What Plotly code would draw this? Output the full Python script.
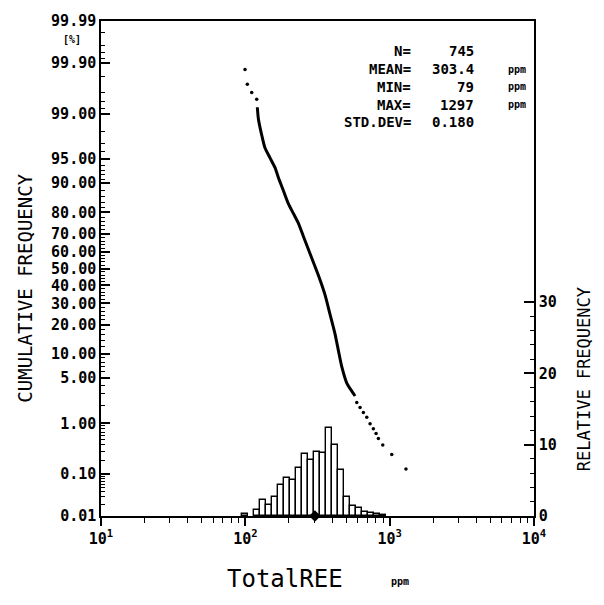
import numpy as np
import plotly.graph_objects as go
from statistics import NormalDist

# ---------------- data ----------------
# Histogram (relative frequency, %) — bin centres in ppm (bins of ratio 1.1)
bin_center_ppm = [99.5, 120.5, 132.6, 145.9, 160.5, 176.5, 194.2, 213.6, 235.0,
                  258.5, 284.3, 312.8, 344.1, 378.4, 416.3, 457.9, 503.8, 554.1,
                  609.5, 670.5, 737.6, 811.3, 892.5]
bin_freq_pct = [0.3, 0.9, 2.3, 1.5, 2.6, 4.3, 5.3, 5.0, 6.7,
                8.7, 7.8, 9.0, 8.9, 12.4, 9.9, 6.5, 2.6, 1.4,
                1.1, 0.5, 0.4, 0.3, 0.2]
bin_ratio = 1.1

# Cumulative frequency curve (dense part)
curve_ppm = [121.1, 123.1, 129.9, 136.9, 148.3, 160.6, 169.3, 183.4, 198.6, 215.1,
             232.9, 252.3, 273.3, 296.0, 320.6, 356.6, 386.4, 418.4, 441.1, 465.7,
             504.4, 546.3, 575.8]
curve_pct = [99.23, 98.78, 97.75, 96.48, 95.17, 93.51, 91.43, 87.94, 83.52, 79.62,
             75.21, 68.62, 61.41, 53.69, 45.90, 34.57, 24.48, 16.23, 10.92, 7.01,
             4.26, 3.27, 2.77]

# Cumulative frequency — isolated points at the tails
tail_ppm = [99.5, 103.2, 110.7, 119.9,
            591.6, 623.6, 657.3, 693.9, 731.4, 770.9, 805.0, 835.1, 895.9, 1034.0, 1297.0]
tail_pct = [99.86, 99.72, 99.59, 99.45,
            2.20, 1.84, 1.53, 1.27, 0.98, 0.80, 0.66, 0.53, 0.40, 0.26, 0.13]

# Statistics block
stat_names = ["N=", "MEAN=", "MIN=", "MAX=", "STD.DEV="]
stat_values = ["745", "303.4", "79", "1297", "0.180"]
stat_units = ["", "ppm", "ppm", "ppm", ""]
mean_ppm = 303.4

# Axis ticks
cum_tick_pct = [0.01, 0.1, 1, 5, 10, 20, 30, 40, 50, 60, 70, 80, 90, 95, 99, 99.9, 99.99]
cum_minor_pct = ([0.02, 0.03, 0.04, 0.05, 0.06, 0.07, 0.08, 0.09,
                  0.2, 0.3, 0.4, 0.5, 0.6, 0.7, 0.8, 0.9, 2, 3, 4, 6, 7, 8, 9,
                  12, 14, 16, 18, 22, 24, 26, 28, 32, 34, 36, 38, 42, 44, 46, 48,
                  52, 54, 56, 58, 62, 64, 66, 68, 72, 74, 76, 78, 82, 84, 86, 88,
                  91, 92, 93, 94, 96, 97, 98, 99.2, 99.4, 99.6, 99.8,
                  99.92, 99.94, 99.96, 99.98])
x_decades = [1, 2, 3, 4]
x_tick_text = ["10<sup>1</sup>", "10<sup>2</sup>", "10<sup>3</sup>", "10<sup>4</sup>"]
rel_ticks = [0, 10, 20, 30]
rel_minor = [2, 4, 6, 8, 12, 14, 16, 18, 22, 24, 26, 28]
rel_range_top = 69.4

# ---------------- helpers ----------------
nd = NormalDist()
def z(p):
    return [nd.inv_cdf(v / 100.0) for v in p]

zlo, zhi = nd.inv_cdf(0.0001), nd.inv_cdf(0.9999)
x_minor = [float(np.log10(m * 10 ** k)) for k in (1, 2, 3) for m in range(2, 10)]

MONO = "DejaVu Sans Mono"
fig = go.Figure()

fig.add_trace(go.Bar(
    x=np.log10(bin_center_ppm), y=bin_freq_pct, width=np.log10(bin_ratio),
    marker=dict(color="white", line=dict(color="black", width=1.4)),
    xaxis="x", yaxis="y2", showlegend=False))

fig.add_trace(go.Scatter(
    x=np.log10(curve_ppm), y=z(curve_pct), mode="lines",
    line=dict(color="black", width=3, shape="spline", smoothing=0.6),
    xaxis="x", yaxis="y", showlegend=False))

fig.add_trace(go.Scatter(
    x=np.log10(tail_ppm), y=z(tail_pct), mode="markers",
    marker=dict(color="black", size=3.5), xaxis="x", yaxis="y", showlegend=False))

fig.add_trace(go.Scatter(
    x=[np.log10(mean_ppm)], y=[0], mode="markers",
    marker=dict(color="black", size=9, symbol="diamond"),
    xaxis="x", yaxis="y2", cliponaxis=False, showlegend=False))

tickfont = dict(family=MONO, size=15, color="black", weight="bold")

fig.update_layout(
    width=604, height=605,
    margin=dict(l=101, r=70, t=13, b=89),
    paper_bgcolor="white", plot_bgcolor="white",
    bargap=0,
    xaxis=dict(range=[1, 4], tickvals=x_decades, ticktext=x_tick_text,
               ticks="outside", ticklen=8, tickwidth=1.5, tickcolor="black",
               minor=dict(tickmode="array", tickvals=x_minor, ticks="outside",
                          ticklen=5, tickwidth=1.3, tickcolor="black", showgrid=False),
               showline=True, mirror=True, linecolor="black", linewidth=1.5,
               showgrid=False, zeroline=False, anchor="y",
               tickfont=dict(family=MONO, size=15, color="black", weight="bold")),
    yaxis=dict(range=[zlo, zhi], tickvals=z(cum_tick_pct),
               ticktext=[f"{p:.2f}" for p in cum_tick_pct],
               ticks="inside", ticklen=9, tickwidth=1.5, tickcolor="black",
               minor=dict(tickmode="array", tickvals=z(cum_minor_pct), ticks="inside",
                          ticklen=4, tickwidth=1, tickcolor="black", showgrid=False),
               showline=True, linecolor="black", linewidth=1.5,
               showgrid=False, zeroline=False, anchor="x", tickfont=tickfont),
    yaxis2=dict(range=[0, rel_range_top], overlaying="y", side="right", anchor="x",
                tickvals=rel_ticks, ticks="inside", ticklen=10, tickwidth=1.5,
                tickcolor="black",
                minor=dict(tickmode="array", tickvals=rel_minor, ticks="inside",
                           ticklen=4, tickwidth=1, tickcolor="black", showgrid=False),
                showline=True, linecolor="black", linewidth=1.5,
                showgrid=False, zeroline=False,
                tickfont=dict(family=MONO, size=15, color="black", weight="bold")),
)

W, H = 433.0, 503.0
def px(xp):
    return (xp - 101) / W
def py(yp):
    return (516 - yp) / H

ann = []
ann.append(dict(text="CUMULATIVE FREQUENCY", x=px(25), y=py(285), textangle=-90,
                font=dict(family=MONO, size=19, color="black")))
ann.append(dict(text="RELATIVE FREQUENCY", x=px(584), y=py(377), textangle=-90,
                font=dict(family=MONO, size=17, color="black")))
ann.append(dict(text="TotalREE", x=px(285), y=py(580),
                font=dict(family=MONO, size=24, color="black")))
ann.append(dict(text="ppm", x=px(400), y=py(583),
                font=dict(family=MONO, size=10, color="black", weight="bold")))
ann.append(dict(text="[%]", x=px(72), y=py(32),
                font=dict(family=MONO, size=10, color="black", weight="bold")))
rows_y = [43, 62, 80, 98, 116]
for name, val, unit, ry in zip(stat_names, stat_values, stat_units, rows_y):
    ann.append(dict(text=name, x=px(413), y=py(ry), xanchor="right",
                    font=dict(family=MONO, size=14, color="black", weight="bold")))
    ann.append(dict(text=val, x=px(476), y=py(ry), xanchor="right",
                    font=dict(family=MONO, size=14, color="black", weight="bold")))
    if unit:
        ann.append(dict(text=unit, x=px(506), y=py(ry), xanchor="left",
                        font=dict(family=MONO, size=10, color="black", weight="bold")))
for a in ann:
    a.update(xref="paper", yref="paper", showarrow=False)
    a.setdefault("xanchor", "center")
    a.setdefault("yanchor", "middle")
fig.update_layout(annotations=ann)

fig.write_html("out.html")
